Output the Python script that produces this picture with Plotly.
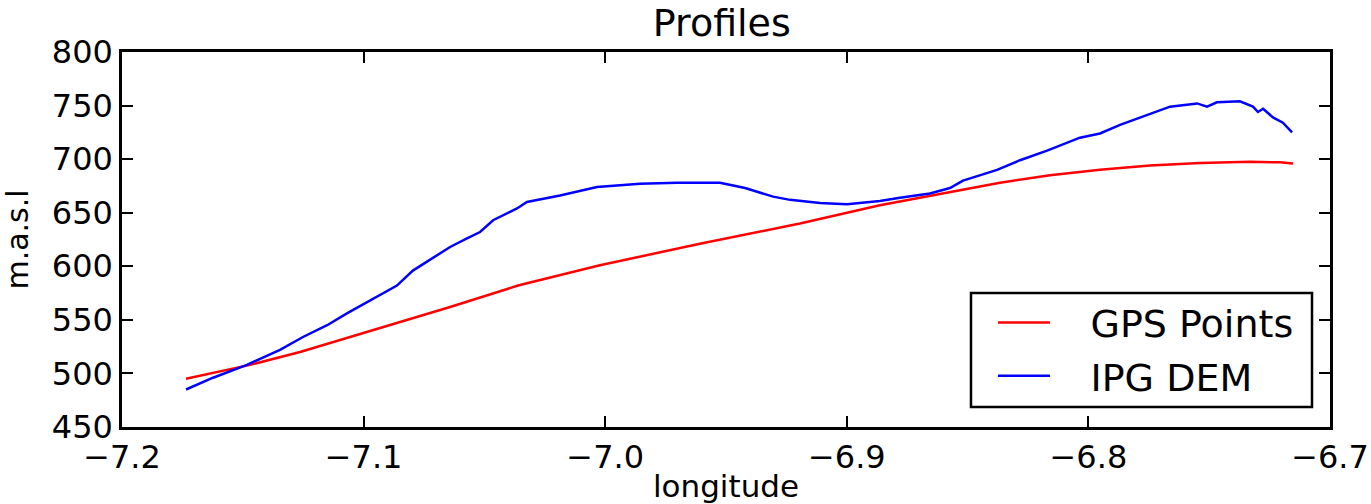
import plotly.graph_objects as go

gps_lon = [-7.1735, -7.147, -7.1263, -7.1056, -7.0849, -7.0642, -7.0361, -7.0022,
           -6.9608, -6.9194, -6.8863, -6.8573, -6.8366, -6.8159, -6.7952, -6.7745,
           -6.7538, -6.7331, -6.7207, -6.7153]
gps_elev = [495, 508, 520, 534, 548, 562, 582, 601, 621, 640, 657, 669, 678, 685,
            690, 694, 696.5, 697.5, 697, 696]

dem_lon = [-7.1735, -7.1623, -7.1483, -7.1346, -7.1251, -7.1151, -7.1069, -7.0974,
           -7.0862, -7.0796, -7.0725, -7.0642, -7.0572, -7.0518, -7.0464, -7.0365,
           -7.0324, -7.0187, -7.0034, -6.9856, -6.9703, -6.9525, -6.9421, -6.9305,
           -6.9235, -6.9111, -6.8999, -6.8863, -6.8780, -6.8656, -6.8573, -6.8519,
           -6.8378, -6.8283, -6.8171, -6.8035, -6.7952, -6.7869, -6.7662, -6.7550,
           -6.7509, -6.7468, -6.7373, -6.7319, -6.7298, -6.7277, -6.7236, -6.7195,
           -6.7157]
dem_elev = [485, 496, 508, 522, 534, 545, 556, 568, 582, 596, 606, 618, 626, 632,
            643, 654, 660, 666, 674, 677, 678, 678, 673, 665, 662, 659, 658, 661,
            664, 668, 673, 680, 690, 699, 708, 720, 724, 732, 749, 752, 749, 753,
            754, 749, 744, 747, 739, 734, 725]

series_names = ["GPS Points", "IPG DEM"]
x_ticks = [-7.2, -7.1, -7.0, -6.9, -6.8, -6.7]
x_tick_text = ["\u22127.2", "\u22127.1", "\u22127.0", "\u22126.9", "\u22126.8", "\u22126.7"]
y_ticks = [450, 500, 550, 600, 650, 700, 750, 800]

FONT = "DejaVu Sans"
PAD = "\u00a0\u00a0\u2009\u200a"

fig = go.Figure()
fig.add_trace(go.Scatter(x=gps_lon, y=gps_elev, mode="lines", name=PAD + series_names[0],
                         legendgroup="a", line=dict(color="#ff0000", width=2.5)))
fig.add_trace(go.Scatter(x=dem_lon, y=dem_elev, mode="lines", name=PAD + series_names[1],
                         legendgroup="b", line=dict(color="#0000ff", width=2.5)))

axis_common = dict(showgrid=False, zeroline=False, showline=True, linecolor="black",
                   linewidth=2.5, mirror="allticks", ticks="inside", ticklen=11,
                   tickwidth=1.5, tickcolor="black", automargin=False,
                   tickfont=dict(family=FONT, size=32, color="black"))

# legend frame (matplotlib-style box)
fig.add_shape(type="rect", xref="x domain", yref="y domain",
              x0=0.7028, x1=0.9851, y0=0.0533, y1=0.3573,
              line=dict(color="black", width=2.5), fillcolor="white", layer="above")

fig.update_layout(
    width=1371, height=504,
    margin=dict(l=122, r=41, t=52, b=77, autoexpand=False),
    paper_bgcolor="white", plot_bgcolor="white",
    title=dict(text="Profiles", x=0.5265, xanchor="center", y=0.955, yanchor="middle",
               font=dict(family=FONT, size=38, color="black")),
    xaxis=dict(range=[-7.2, -6.7], tickvals=x_ticks, ticktext=x_tick_text,
               title=dict(text="longitude", font=dict(family=FONT, size=31, color="black")),
               **axis_common),
    yaxis=dict(range=[450, 800], tickvals=y_ticks,
               title=dict(text="m.a.s.l", font=dict(family=FONT, size=30, color="black")),
               **axis_common),
    legend=dict(x=0.7210, y=0.362, xanchor="left", yanchor="top",
                bgcolor="rgba(0,0,0,0)", borderwidth=0,
                font=dict(family=FONT, size=38, color="black"),
                itemwidth=52, tracegroupgap=1),
    showlegend=True,
)

fig.write_html("out.html")
